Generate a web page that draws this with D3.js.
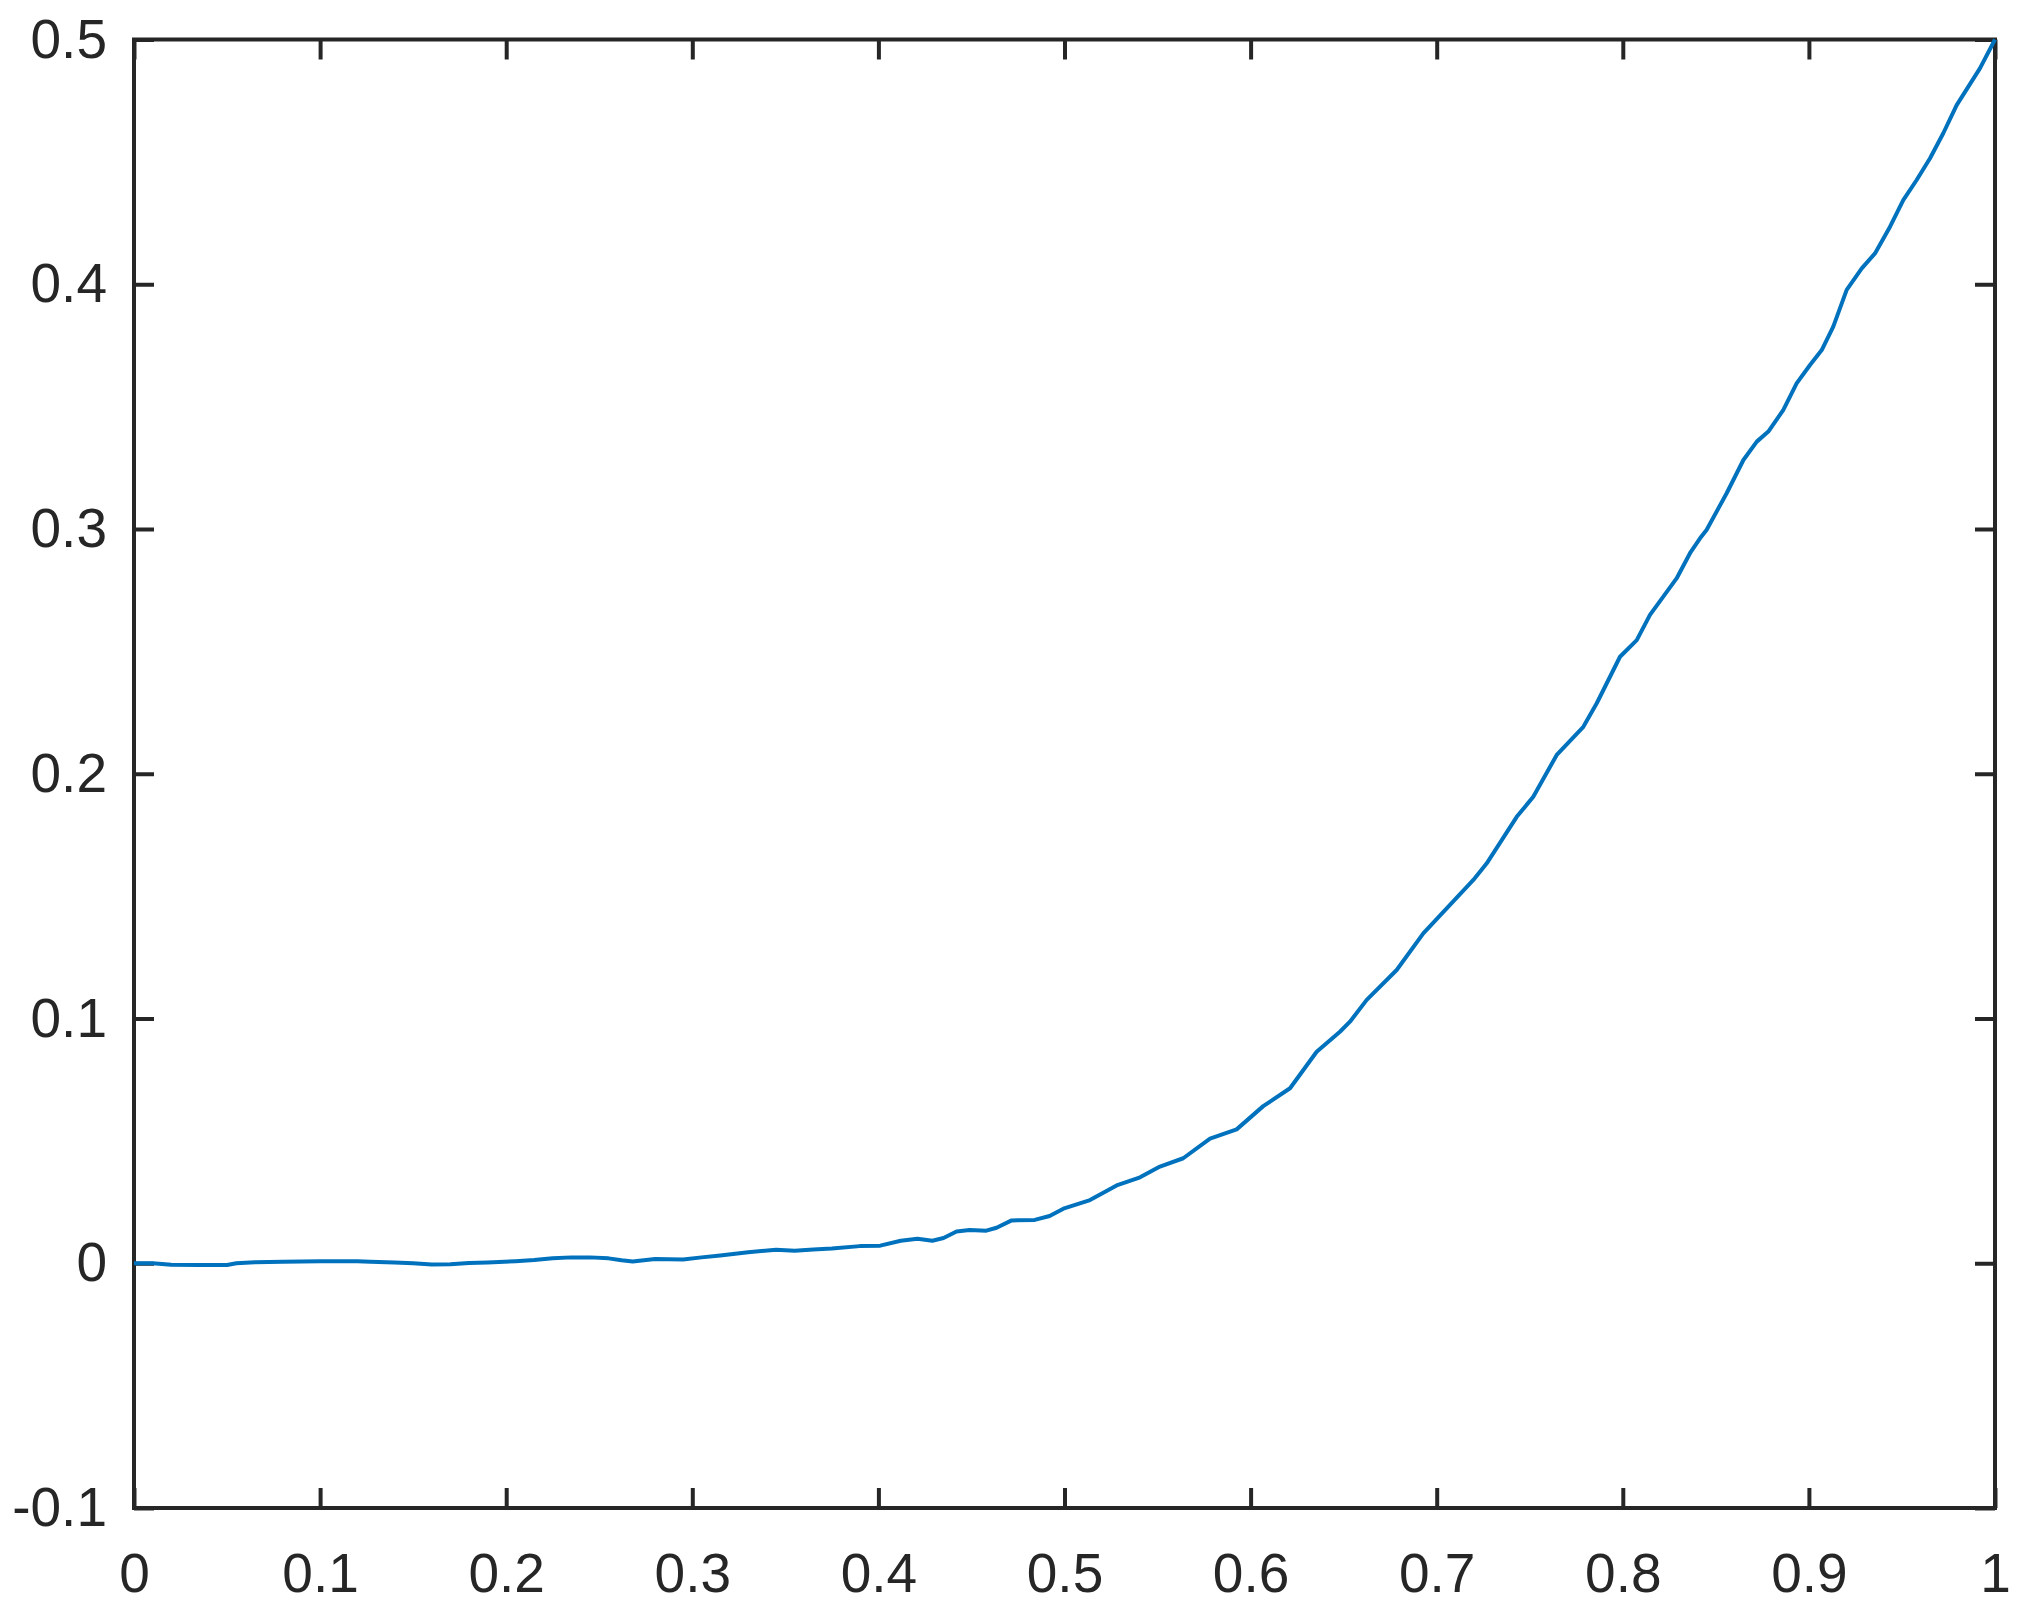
<!DOCTYPE html>
<html>
<head>
<meta charset="utf-8">
<script src="https://cdn.jsdelivr.net/npm/d3@7"></script>
<style>
  body { margin: 0; background: #fff; }
  .tick text { font-family: "Liberation Sans", Arial, Helvetica, sans-serif; font-size: 55px; fill: #262626; }
</style>
</head>
<body>
<div class="chart"></div>
<script>
// values
var xVals = [0, 0.01, 0.02, 0.035, 0.05, 0.055, 0.065, 0.08, 0.10, 0.12, 0.127, 0.14, 0.15, 0.16, 0.17,
  0.18, 0.19, 0.205, 0.215, 0.225, 0.235, 0.245, 0.255, 0.262, 0.268, 0.28, 0.295, 0.305, 0.315, 0.33,
  0.345, 0.355, 0.365, 0.375, 0.39, 0.401, 0.412, 0.421, 0.429, 0.435, 0.442, 0.449, 0.458, 0.4635,
  0.4716, 0.484, 0.492, 0.4994, 0.5137, 0.528, 0.5406, 0.5513, 0.5638, 0.5782, 0.5925, 0.6068, 0.6212,
  0.6355, 0.648, 0.6534, 0.6624, 0.6785, 0.6928, 0.7197, 0.7269, 0.743, 0.7519, 0.7645, 0.7788, 0.786,
  0.7985, 0.8075, 0.8146, 0.8289, 0.8361, 0.8415, 0.845, 0.8558, 0.8648, 0.872, 0.8782, 0.8862, 0.8934,
  0.9006, 0.9069, 0.9131, 0.9203, 0.9284, 0.9355, 0.9436, 0.9507, 0.9579, 0.9651, 0.9722, 0.9794,
  0.9919, 1.0];
var yVals = [0, 0, -0.0006, -0.0007, -0.0007, 0, 0.0004, 0.0006, 0.0008, 0.0008, 0.0006, 0.0003, 0, -0.0005, -0.0004,
  0.0001, 0.0003, 0.0008, 0.0013, 0.002, 0.0024, 0.0024, 0.002, 0.0012, 0.0007, 0.0017, 0.0015, 0.0024, 0.0032, 0.0045,
  0.0055, 0.0051, 0.0056, 0.006, 0.007, 0.0072, 0.0092, 0.0100, 0.0092, 0.0103, 0.0130, 0.0136, 0.0133, 0.0145,
  0.0175, 0.0177, 0.0193, 0.0223, 0.0258, 0.0318, 0.0351, 0.0395, 0.0429, 0.0509, 0.0547, 0.0642, 0.0715,
  0.0864, 0.0946, 0.0987, 0.1076, 0.1198, 0.1348, 0.1566, 0.1634, 0.1824, 0.1906, 0.2077, 0.2192, 0.2288,
  0.2478, 0.2546, 0.2649, 0.2798, 0.2901, 0.2962, 0.2996, 0.3146, 0.3282, 0.3357, 0.3398, 0.3486, 0.3595,
  0.367, 0.3731, 0.3827, 0.3977, 0.4065, 0.4126, 0.4235, 0.4344, 0.4426, 0.4515, 0.4617, 0.4732,
  0.4882, 0.5];
var xTicks = [0, 0.1, 0.2, 0.3, 0.4, 0.5, 0.6, 0.7, 0.8, 0.9, 1];
var yTicks = [-0.1, 0, 0.1, 0.2, 0.3, 0.4, 0.5];

var svgWidth = 2019;
var svgHeight = 1620;
var margin = { top: 39.5, right: 24, bottom: 112, left: 134 };
var width = svgWidth - margin.left - margin.right;
var height = svgHeight - margin.top - margin.bottom;
var ink = "#262626";

var svg = d3.select(".chart")
  .append("svg")
  .attr("width", svgWidth)
  .attr("height", svgHeight)
  .style("display", "block");

svg.append("rect").attr("width", svgWidth).attr("height", svgHeight).attr("fill", "#fff");

var chartGroup = svg.append("g")
  .attr("transform", `translate(${margin.left}, ${margin.top})`);

var xScale = d3.scaleLinear().domain([0, 1]).range([0, width]);
var yScale = d3.scaleLinear().domain([-0.1, 0.5]).range([height, 0]);

function fmt(d) { return String(+d.toFixed(1)); }

// bottom + left with labels, top + right ticks only
var bottomAxis = d3.axisBottom(xScale).tickValues(xTicks).tickFormat(fmt)
  .tickSizeInner(-20).tickSizeOuter(0).tickPadding(45);
var leftAxis = d3.axisLeft(yScale).tickValues(yTicks).tickFormat(fmt)
  .tickSizeInner(-20).tickSizeOuter(0).tickPadding(27);
var topAxis = d3.axisTop(xScale).tickValues(xTicks).tickFormat("")
  .tickSizeInner(-20).tickSizeOuter(0);
var rightAxis = d3.axisRight(yScale).tickValues(yTicks).tickFormat("")
  .tickSizeInner(-20).tickSizeOuter(0);

var axes = [
  chartGroup.append("g").attr("transform", `translate(0, ${height})`).call(bottomAxis),
  chartGroup.append("g").call(leftAxis),
  chartGroup.append("g").call(topAxis),
  chartGroup.append("g").attr("transform", `translate(${width}, 0)`).call(rightAxis)
];
axes.forEach(function(a) {
  a.select(".domain").remove();
  a.selectAll(".tick line").attr("stroke", ink).attr("stroke-width", 4);
});
chartGroup.selectAll(".tick text").attr("fill", ink);

// axis box
chartGroup.append("rect")
  .attr("x", 0).attr("y", 0)
  .attr("width", width).attr("height", height)
  .attr("fill", "none")
  .attr("stroke", ink)
  .attr("stroke-width", 4);

var pts = xVals.map(function(x, i) { return [x, yVals[i]]; });

var line = d3.line()
  .x(d => xScale(d[0]))
  .y(d => yScale(d[1]));

chartGroup.append("path")
  .datum(pts)
  .attr("d", line)
  .attr("fill", "none")
  .attr("stroke", "#0072BD")
  .attr("stroke-width", 4)
  .attr("stroke-linejoin", "round");
</script>
</body>
</html>
